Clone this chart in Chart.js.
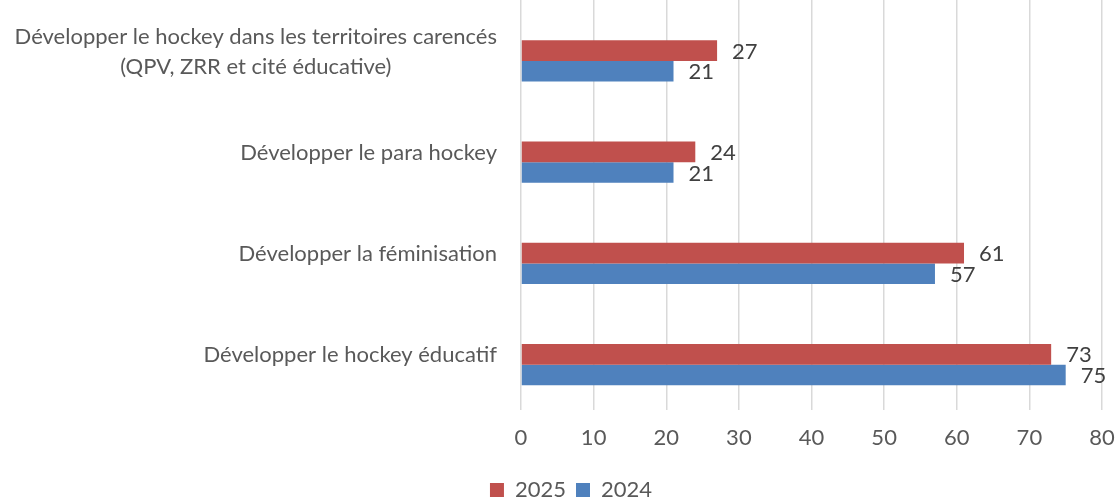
<!DOCTYPE html>
<html>
<head>
<meta charset="utf-8">
<script src="https://cdn.jsdelivr.net/npm/chart.js@4"></script>
<style>
  html, body { margin: 0; padding: 0; background: #fff; }
  #wrap { width: 1118px; height: 500px; }
</style>
</head>
<body>
<div id="wrap"><canvas id="chart"></canvas></div>
<script>
// données
var categories = [
  ["Développer le hockey dans les territoires carencés", "(QPV, ZRR et cité éducative)"],
  "Développer le para hockey",
  "Développer la féminisation",
  "Développer le hockey éducatif"
];
var values2025 = [27, 24, 61, 73];
var values2024 = [21, 21, 57, 75];
var empty = [null, null, null, null]; // série vide (place réservée dans Excel)
var xTicks = [0, 10, 20, 30, 40, 50, 60, 70, 80];

var FONT = "Lato, 'Liberation Sans', sans-serif";

// étiquettes des catégories (lignes centrées entre elles, bloc aligné à droite)
var catLabels = {
  id: 'catLabels',
  afterDraw: function(chart) {
    var ctx = chart.ctx;
    var y = chart.scales.y;
    ctx.save();
    ctx.font = '22px ' + FONT;
    ctx.fillStyle = '#595959';
    ctx.textBaseline = 'middle';
    ctx.textAlign = 'center';
    categories.forEach(function(c, i) {
      var lines = Array.isArray(c) ? c : [c];
      var w = Math.max.apply(null, lines.map(function(l){ return ctx.measureText(l).width; }));
      var cx = y.right - 24 - w / 2;
      var cy = y.getPixelForValue(i) + 1;
      lines.forEach(function(l, k) {
        ctx.fillText(l, cx, cy + (k - (lines.length - 1) / 2) * 30);
      });
    });
    ctx.restore();
  }
};

// valeurs à droite des barres
var valueLabels = {
  id: 'valueLabels',
  afterDatasetsDraw: function(chart) {
    var ctx = chart.ctx;
    ctx.save();
    ctx.font = '22px ' + FONT;
    ctx.fillStyle = '#404040';
    ctx.textBaseline = 'middle';
    ctx.textAlign = 'left';
    chart.data.datasets.forEach(function(ds, d) {
      if (!ds.label) return;
      var meta = chart.getDatasetMeta(d);
      meta.data.forEach(function(bar, i) {
        if (ds.data[i] == null) return;
        ctx.fillText(String(ds.data[i]), bar.x + 15, bar.y + 1);
      });
    });
    ctx.restore();
  }
};

var config = {
  type: 'bar',
  data: {
    labels: categories,
    datasets: [
      { label: '', data: empty, backgroundColor: '#ffffff' },
      { label: '2025', data: values2025, backgroundColor: '#C0504D' },
      { label: '2024', data: values2024, backgroundColor: '#4F81BD' }
    ]
  },
  options: {
    indexAxis: 'y',
    responsive: true,
    maintainAspectRatio: false,
    animation: false,
    layout: { padding: { left: 40, right: 16, top: 0, bottom: -11 } },
    datasets: { bar: { barPercentage: 1, categoryPercentage: 0.61 } },
    scales: {
      x: {
        min: 0,
        max: 80,
        afterBuildTicks: function(axis) {
          axis.ticks = xTicks.map(function(v){ return { value: v }; });
        },
        afterFit: function(axis) {
          axis.height = 64;
          axis.paddingLeft = 0;
          axis.paddingRight = 0;
        },
        grid: { color: '#d9d9d9', lineWidth: 1.5, tickLength: 5 },
        border: { display: false },
        ticks: { color: '#595959', font: { family: FONT, size: 22 }, padding: 15, maxRotation: 0 }
      },
      y: {
        grid: { display: false },
        border: { display: false },
        ticks: { display: false },
        afterFit: function(axis) { axis.width = 481; }
      }
    },
    plugins: {
      legend: {
        position: 'bottom',
        labels: {
          color: '#595959',
          font: { family: FONT, size: 22 },
          boxWidth: 14,
          boxHeight: 14,
          padding: 10,
          filter: function(item) { return item.text !== ''; }
        }
      },
      tooltip: { enabled: false }
    }
  },
  plugins: [catLabels, valueLabels]
};

new Chart(document.getElementById('chart').getContext('2d'), config);
</script>
</body>
</html>
